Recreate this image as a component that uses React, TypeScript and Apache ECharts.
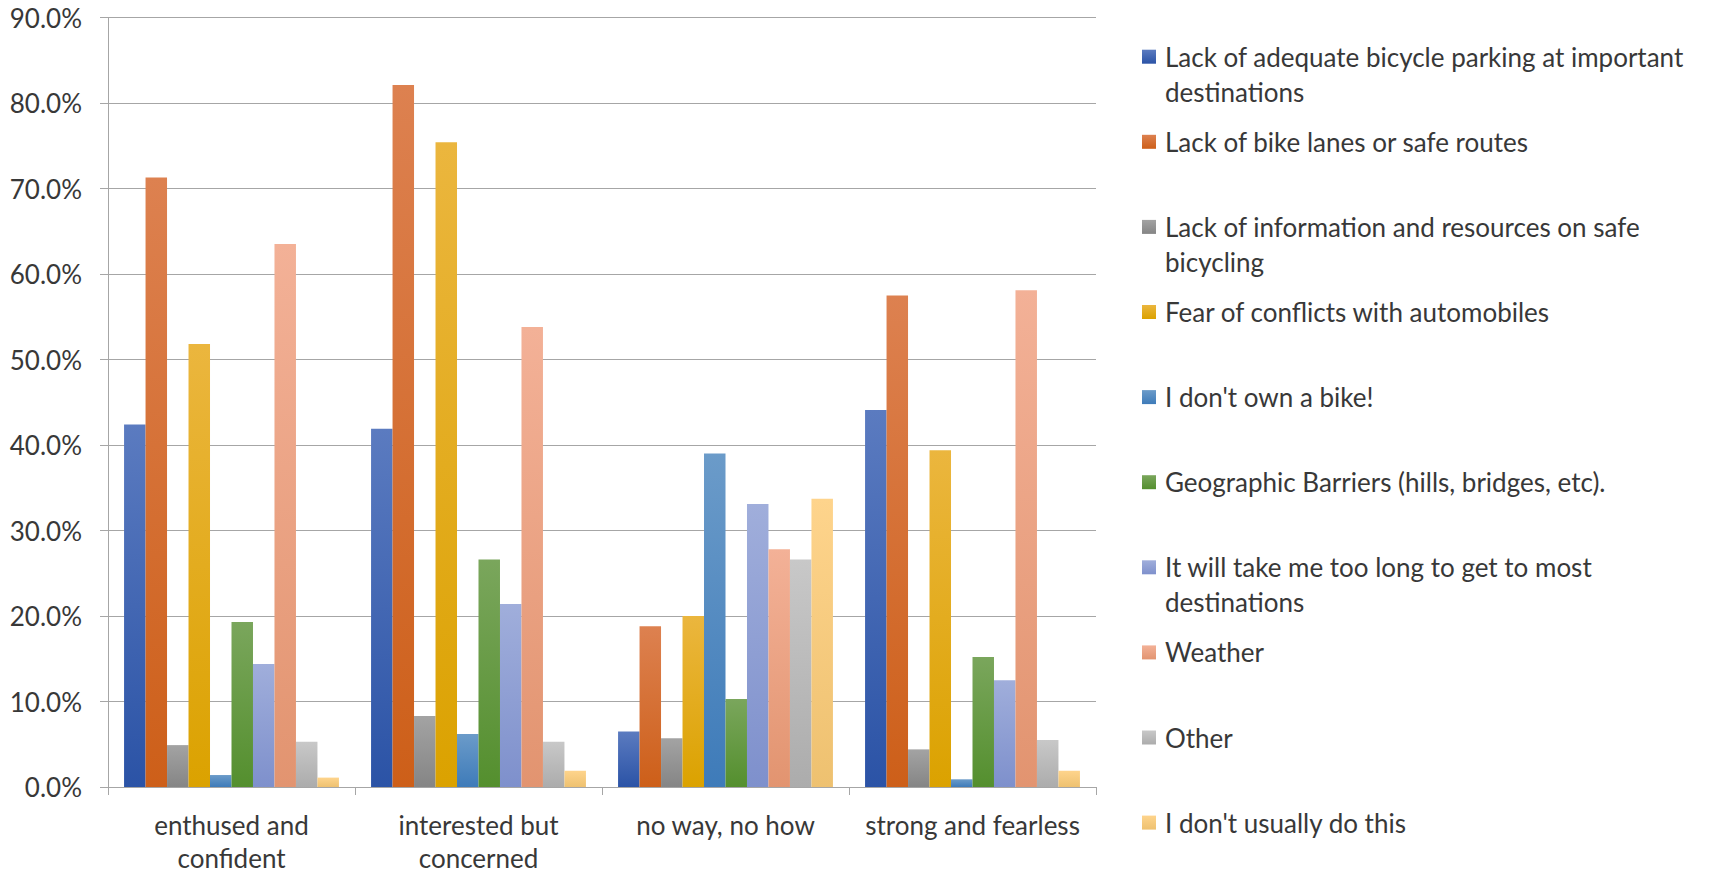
import React, { useEffect, useRef } from "react";
import * as echarts from "echarts";

const categories = ["enthused and\nconfident", "interested but\nconcerned", "no way, no how", "strong and fearless"];

const seriesNames = [
  "Lack of adequate bicycle parking at important destinations",
  "Lack of bike lanes or safe routes",
  "Lack of information and resources on safe bicycling",
  "Fear of conflicts with automobiles",
  "I don't own a bike!",
  "Geographic Barriers (hills, bridges, etc).",
  "It will take me too long to get to most destinations",
  "Weather",
  "Other",
  "I don't usually do this",
];

const legendLabels = [
  "Lack of adequate bicycle parking at important\ndestinations",
  "Lack of bike lanes or safe routes",
  "Lack of information and resources on safe\nbicycling",
  "Fear of conflicts with automobiles",
  "I don't own a bike!",
  "Geographic Barriers (hills, bridges, etc).",
  "It will take me too long to get to most\ndestinations",
  "Weather",
  "Other",
  "I don't usually do this",
];

// values in percent, per category: enthused, interested, no way, strong
const parking = [42.4, 41.9, 6.5, 44.1];
const bikeLanes = [71.3, 82.1, 18.8, 57.5];
const info = [4.9, 8.3, 5.7, 4.4];
const fear = [51.8, 75.4, 20.0, 39.4];
const noBike = [1.4, 6.2, 39.0, 0.9];
const geographic = [19.3, 26.6, 10.3, 15.2];
const tooLong = [14.4, 21.4, 33.1, 12.5];
const weather = [63.5, 53.8, 27.8, 58.1];
const other = [5.3, 5.3, 26.6, 5.5];
const dontUsually = [1.1, 1.9, 33.7, 1.9];

const seriesData = [parking, bikeLanes, info, fear, noBike, geographic, tooLong, weather, other, dontUsually];

const yTicks = { min: 0, max: 90, interval: 10 };

const topColors = ["#5b7bc0", "#dd8150", "#a3a3a3", "#ebb63e", "#6b9bc9", "#7aa65c", "#a0aedb", "#f3b197", "#c8c8c8", "#fed48c"];
const bottomColors = ["#2b53a6", "#cd5f19", "#858585", "#dba200", "#3e7bb9", "#548f2e", "#7e90cc", "#e29470", "#acacac", "#eec170"];

const FONT = "Lato, 'Open Sans', sans-serif";
const FS = 26;
const TEXT_COLOR = "#383838";

function grad(i: number) {
  return new echarts.graphic.LinearGradient(0, 0, 0, 1, [
    { offset: 0, color: topColors[i] },
    { offset: 1, color: bottomColors[i] },
  ]);
}

export default function App() {
  const ref = useRef<HTMLDivElement>(null);
  useEffect(() => {
    document.body.style.margin = "0";
    if (!ref.current) return;
    const chart = echarts.init(ref.current, undefined, { renderer: "svg" });

    const legendX = 1142;
    const legendTextX = 1165;
    const legendTop = 56.7;
    const legendStep = 85.1;
    const legendGraphics: any[] = [];
    legendLabels.forEach((label, i) => {
      const cy = legendTop + i * legendStep;
      legendGraphics.push({
        type: "rect",
        shape: { x: legendX, y: cy - 7, width: 14, height: 14 },
        style: { fill: grad(i) },
        silent: true,
      });
      legendGraphics.push({
        type: "text",
        x: legendTextX,
        y: cy - 17.5,
        style: {
          text: label,
          font: `${FS}px ${FONT}`,
          fill: TEXT_COLOR,
          lineHeight: 35,
          verticalAlign: "top",
          align: "left",
        },
        silent: true,
      });
    });

    chart.setOption({
      animation: false,
      backgroundColor: "#ffffff",
      textStyle: { fontFamily: FONT },
      grid: { left: 108, right: 614, top: 17.5, bottom: 85.5, containLabel: false },
      xAxis: {
        type: "category",
        data: categories,
        axisLine: { show: true, lineStyle: { color: "#a6a6a6", width: 1 } },
        axisTick: { show: true, length: 8, alignWithLabel: false, lineStyle: { color: "#a6a6a6" } },
        axisLabel: {
          fontSize: FS,
          fontFamily: FONT,
          color: TEXT_COLOR,
          lineHeight: 33,
          margin: 21,
          interval: 0,
        },
      },
      yAxis: {
        type: "value",
        min: yTicks.min,
        max: yTicks.max,
        interval: yTicks.interval,
        axisLine: { show: true, lineStyle: { color: "#a6a6a6", width: 1 } },
        axisTick: { show: true, length: 8, lineStyle: { color: "#a6a6a6" } },
        splitLine: { show: true, lineStyle: { color: "#a6a6a6", width: 1 } },
        axisLabel: {
          fontSize: FS,
          fontFamily: FONT,
          color: TEXT_COLOR,
          margin: 26,
          formatter: (v: number) => v.toFixed(1) + "%",
        },
      },
      series: seriesNames.map((name, i) => ({
        name,
        type: "bar",
        data: seriesData[i],
        barGap: "0%",
        barCategoryGap: "13%",
        itemStyle: { color: grad(i) },
      })),
      graphic: legendGraphics,
    });
    return () => chart.dispose();
  }, []);
  return <div ref={ref} style={{ width: 1710, height: 874 }} />;
}
